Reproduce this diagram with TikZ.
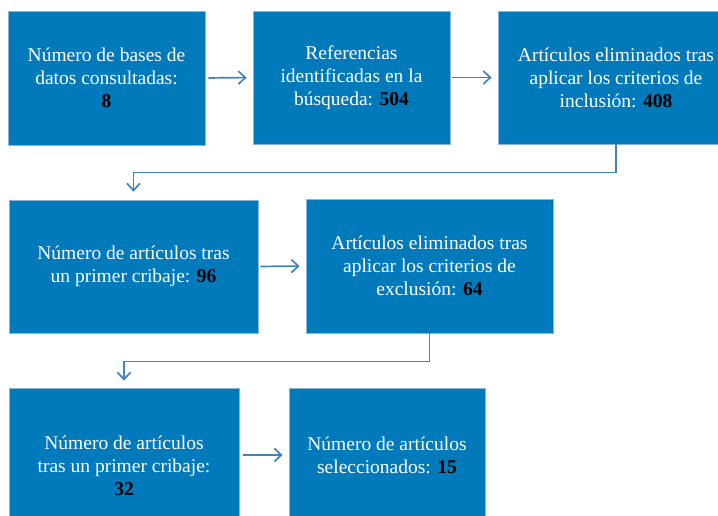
\documentclass[tikz,border=0pt]{standalone}
\usepackage{fontspec}
\setmainfont{Liberation Serif}
\usetikzlibrary{arrows.meta}
\definecolor{cajaazul}{RGB}{0,122,187}
\definecolor{lineaazul}{RGB}{62,132,190}
\newcommand{\cifra}[1]{\textcolor{black}{\textbf{#1}}}
\begin{document}
\begin{tikzpicture}[x=1pt,y=-1pt,
  caja/.style={fill=cajaazul,draw=lineaazul!60!white,line width=0.8pt,text=white,
    align=center,inner sep=0pt,font=\fontsize{19.5}{23}\selectfont},
  flecha/.style={draw=lineaazul,line width=1.7pt,-{Straight Barb[length=7pt,width=13pt]}}]
  \useasboundingbox (0,0) rectangle (718,516);
  \clip (0,0) rectangle (718,516);
  \node[caja,minimum width=197,minimum height=134] (bases) at (106.5,78)
    {Número de bases de\\datos consultadas:\\\cifra{8}};
  \node[caja,minimum width=197,minimum height=133] (refs) at (351.5,77.5)
    {Referencias\\identificadas en la\\búsqueda: \cifra{504}};
  \node[caja,minimum width=236,minimum height=133] (incl) at (616,77.5)
    {Artículos eliminados tras\\aplicar los criterios de\\inclusión: \cifra{408}};
  \node[caja,minimum width=249,minimum height=133] (criba) at (133.5,266.5)
    {Número de artículos tras\\un primer cribaje: \cifra{96}};
  \node[caja,minimum width=247,minimum height=134] (excl) at (429.5,266)
    {Artículos eliminados tras\\aplicar los criterios de\\exclusión: \cifra{64}};
  \node[caja,minimum width=230,minimum height=156] (cribados) at (124,466)
    {Número de artículos\\tras un primer cribaje:\\\cifra{32}};
  \node[caja,minimum width=196,minimum height=134] (selec) at (387,455)
    {Número de artículos\\seleccionados: \cifra{15}};

  \draw[flecha,shorten <=3pt,shorten >=6pt] (bases.east) -- (refs.west);
  \draw[flecha,shorten <=2pt,shorten >=6pt] (refs.east) -- (incl.west);
  \draw[flecha,shorten >=8pt] (incl.south) -- ++(0,28) -| (criba.north);
  \draw[flecha,shorten <=2pt,shorten >=6pt] (criba.east) -- (excl.west);
  \draw[flecha,shorten >=7pt] (excl.south) -- ++(0,28) -| (cribados.north);
  \draw[flecha,shorten <=4pt,shorten >=6pt] (selec.west -| cribados.east) -- (selec.west);
\end{tikzpicture}
\end{document}
